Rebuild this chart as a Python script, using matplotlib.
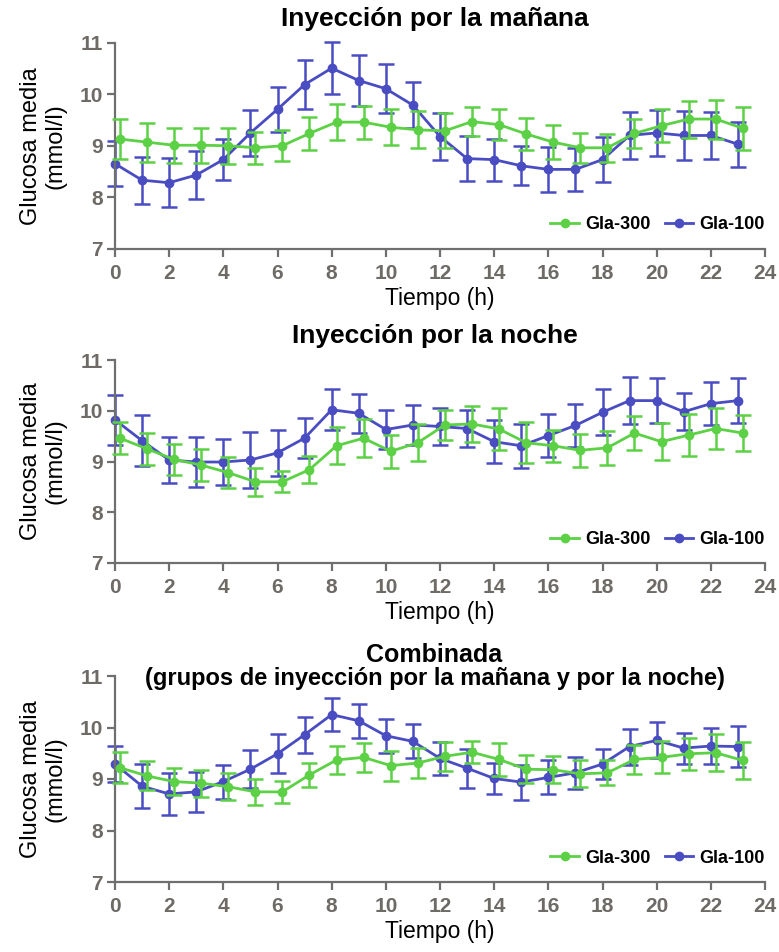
import matplotlib
matplotlib.use("Agg")
import matplotlib.pyplot as plt
from matplotlib.lines import Line2D
import numpy as np

plt.rcParams['font.family'] = ['Liberation Sans', 'DejaVu Sans']

hours = list(range(24))

# Inyección por la mañana
m_g300 = [9.13, 9.07, 9.01, 9.01, 9.00, 8.96, 9.00, 9.24, 9.46, 9.46, 9.36, 9.31,
          9.29, 9.47, 9.41, 9.23, 9.07, 8.96, 8.96, 9.24, 9.39, 9.52, 9.52, 9.34]
m_g300_err = [0.39, 0.38, 0.34, 0.34, 0.35, 0.31, 0.30, 0.32, 0.35, 0.32, 0.35, 0.36,
              0.34, 0.28, 0.30, 0.31, 0.33, 0.29, 0.27, 0.28, 0.32, 0.36, 0.38, 0.42]
m_g100 = [8.65, 8.33, 8.28, 8.43, 8.73, 9.25, 9.71, 10.19, 10.51, 10.27, 10.11, 9.79,
          9.18, 8.75, 8.73, 8.61, 8.54, 8.54, 8.73, 9.20, 9.25, 9.20, 9.20, 9.03]
m_g100_err = [0.44, 0.46, 0.48, 0.46, 0.40, 0.44, 0.44, 0.48, 0.50, 0.50, 0.48, 0.45,
              0.46, 0.44, 0.41, 0.38, 0.44, 0.42, 0.44, 0.46, 0.45, 0.48, 0.46, 0.44]

# Inyección por la noche
n_g300 = [9.46, 9.25, 9.04, 8.93, 8.78, 8.60, 8.60, 8.84, 9.31, 9.46, 9.20, 9.37,
          9.72, 9.74, 9.64, 9.37, 9.31, 9.22, 9.27, 9.56, 9.39, 9.52, 9.65, 9.56]
n_g300_err = [0.31, 0.32, 0.31, 0.32, 0.31, 0.27, 0.21, 0.26, 0.36, 0.37, 0.32, 0.36,
              0.29, 0.35, 0.42, 0.40, 0.31, 0.32, 0.33, 0.33, 0.37, 0.42, 0.41, 0.36]
n_g100 = [9.82, 9.41, 9.03, 8.99, 8.99, 9.03, 9.17, 9.46, 10.02, 9.95, 9.63, 9.72,
          9.69, 9.65, 9.39, 9.31, 9.51, 9.71, 9.97, 10.20, 10.20, 9.98, 10.14, 10.20]
n_g100_err = [0.50, 0.50, 0.45, 0.49, 0.45, 0.55, 0.45, 0.40, 0.40, 0.38, 0.38, 0.39,
              0.36, 0.36, 0.42, 0.43, 0.43, 0.42, 0.45, 0.47, 0.45, 0.36, 0.43, 0.44]

# Combinada
c_g300 = [9.22, 9.06, 8.95, 8.92, 8.85, 8.75, 8.75, 9.08, 9.37, 9.42, 9.26, 9.31,
          9.44, 9.52, 9.38, 9.19, 9.18, 9.10, 9.12, 9.38, 9.42, 9.49, 9.51, 9.36]
c_g300_err = [0.30, 0.28, 0.26, 0.26, 0.26, 0.25, 0.21, 0.23, 0.27, 0.28, 0.29, 0.29,
              0.28, 0.21, 0.32, 0.27, 0.26, 0.26, 0.24, 0.28, 0.31, 0.31, 0.36, 0.36]
c_g100 = [9.29, 8.86, 8.71, 8.75, 8.95, 9.19, 9.49, 9.86, 10.25, 10.13, 9.84, 9.73,
          9.40, 9.21, 9.01, 8.94, 9.03, 9.12, 9.29, 9.63, 9.75, 9.60, 9.64, 9.63]
c_g100_err = [0.35, 0.43, 0.40, 0.39, 0.33, 0.37, 0.38, 0.35, 0.32, 0.33, 0.33, 0.33,
              0.32, 0.38, 0.30, 0.34, 0.33, 0.31, 0.29, 0.35, 0.35, 0.30, 0.35, 0.40]

panels = [
    ("Inyección por la mañana", None, m_g300, m_g300_err, m_g100, m_g100_err),
    ("Inyección por la noche", None, n_g300, n_g300_err, n_g100, n_g100_err),
    ("Combinada", "(grupos de inyección por la mañana y por la noche)",
     c_g300, c_g300_err, c_g100, c_g100_err),
]

green = '#5cd145'
blue = '#4a4cc2'
axcol = '#6f6f6f'
tickcol = '#6e6a66'

fig = plt.figure(figsize=(7.79, 9.52), dpi=100)
W, H = 779.0, 952.0
boxes = [(43, 248.5), (360, 563), (676, 882)]
x0, x1 = 115, 765

for (title, sub, g3, g3e, g1, g1e), (top, bot) in zip(panels, boxes):
    ax = fig.add_axes([x0 / W, 1 - bot / H, (x1 - x0) / W, (bot - top) / H])
    xg = np.array(hours) + 0.18
    xb = np.array(hours)
    ax.errorbar(xg, g3, yerr=g3e, color=green, lw=2.0, marker='o', ms=6,
                elinewidth=1.8, capsize=6, capthick=1.8, clip_on=False,
                zorder=3)
    ax.errorbar(xb, g1, yerr=g1e, color=blue, lw=2.0, marker='o', ms=6,
                elinewidth=1.8, capsize=6, capthick=1.8, clip_on=False,
                zorder=2)

    ax.set_xlim(0, 24)
    ax.set_ylim(7, 11)
    ax.set_xticks(range(0, 25, 2))
    ax.set_yticks(range(7, 12))
    for s in ['top', 'right']:
        ax.spines[s].set_visible(False)
    for s in ['left', 'bottom']:
        ax.spines[s].set_color(axcol)
        ax.spines[s].set_linewidth(1.6)
    ax.tick_params(direction='out', length=6, width=1.6, color=axcol,
                   labelcolor=tickcol, labelsize=15, pad=3)
    ax.tick_params(axis='x', pad=5)
    for lab in ax.get_xticklabels() + ax.get_yticklabels():
        lab.set_fontweight('bold')

    ax.set_xlabel("Tiempo (h)", fontsize=16.5, labelpad=3)
    ax.set_ylabel("Glucosa media\n(mmol/l)", fontsize=17, linespacing=1.2)
    ax.yaxis.set_label_coords(-0.074, 0.5)

    cx = (x0 + x1) / 2 / W - 0.007
    if sub is None:
        fig.text(cx, 1 - (top - 24) / H, title, ha='center', va='center',
                 fontsize=19, fontweight='bold')
    else:
        fig.text(cx, 1 - (top - 21) / H, title, ha='center', va='center',
                 fontsize=18, fontweight='bold')
        fig.text(cx, 1 - (top + 3) / H, sub, ha='center', va='center',
                 fontsize=17, fontweight='bold')

    handles = [Line2D([], [], color=green, lw=2.0, marker='o', ms=6),
               Line2D([], [], color=blue, lw=2.0, marker='o', ms=6)]
    ax.legend(handles, ['Gla-300', 'Gla-100'], loc='center right',
              bbox_to_anchor=(1.01, 0.115), ncol=2, frameon=False,
              handlelength=1.6, handletextpad=0.3, columnspacing=0.8,
              borderaxespad=0, prop={'weight': 'bold', 'size': 13})

fig.savefig("out.png", dpi=100)
